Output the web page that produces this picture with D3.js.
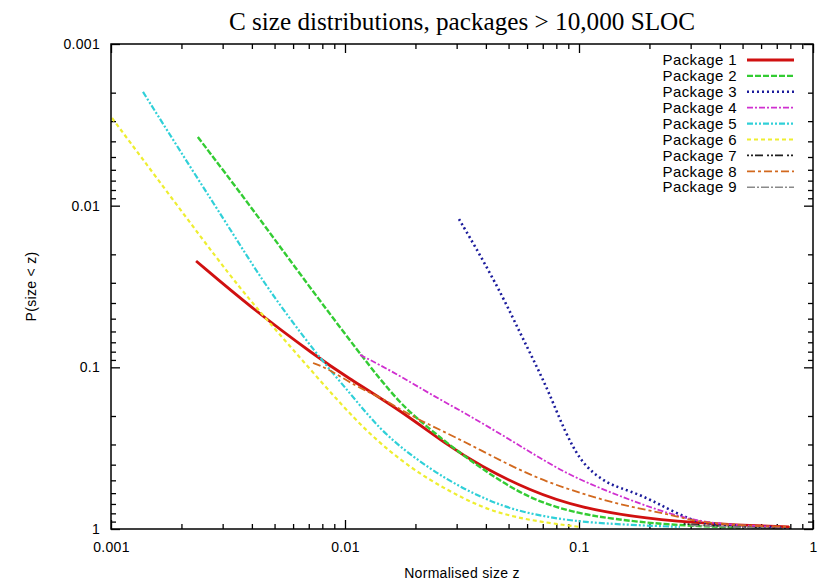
<!DOCTYPE html>
<html>
<head>
<meta charset="utf-8">
<script src="https://cdn.jsdelivr.net/npm/d3@7"></script>
<style>
  html, body { margin: 0; padding: 0; background: #fff; }
  svg { display: block; }
  .tick text { font-family: "Liberation Sans", Arial, sans-serif; }
</style>
</head>
<body>
<svg id="chart" width="823" height="581"></svg>
<script>
// Cumulative size distributions (P(size < z) against normalised size z)
const seriesNames = ["Package 1", "Package 2", "Package 3", "Package 4", "Package 5",
                     "Package 6", "Package 7", "Package 8", "Package 9"];

const pkg1X = [0.00231, 0.00393, 0.00759, 0.01, 0.0172, 0.0273, 0.0378, 0.0618, 0.101, 0.195, 0.37, 0.79];
const pkg1Y = [0.022, 0.0423, 0.0862, 0.113, 0.184, 0.302, 0.406, 0.581, 0.740, 0.866, 0.929, 0.971];

const pkg2X = [0.00235, 0.00393, 0.00642, 0.0115, 0.0172, 0.0231, 0.0273, 0.0378, 0.0618, 0.101, 0.140, 0.229, 0.49];
const pkg2Y = [0.00376, 0.0100, 0.0265, 0.0815, 0.170, 0.241, 0.294, 0.419, 0.661, 0.807, 0.866, 0.94, 0.984];

const pkg3X = [0.0307, 0.0378, 0.0473, 0.0560, 0.0649, 0.0752, 0.0871, 0.101, 0.115, 0.132, 0.150, 0.182, 0.215, 0.245, 0.290, 0.329, 0.488, 0.798];
const pkg3Y = [0.0121, 0.0202, 0.0367, 0.0613, 0.0940, 0.148, 0.251, 0.374, 0.450, 0.519, 0.557, 0.615, 0.690, 0.762, 0.853, 0.916, 0.957, 0.984];

const pkg4X = [0.0116, 0.0141, 0.0177, 0.0231, 0.0319, 0.0447, 0.0618, 0.0855, 0.119, 0.165, 0.229, 0.319, 0.442, 0.722];
const pkg4Y = [0.0838, 0.0966, 0.116, 0.146, 0.189, 0.251, 0.334, 0.443, 0.549, 0.661, 0.784, 0.891, 0.944, 0.971];

const pkg5X = [0.00137, 0.00218, 0.00339, 0.00464, 0.00759, 0.0105, 0.0141, 0.0195, 0.0273, 0.0378, 0.0522, 0.0730, 0.101, 0.165, 0.270];
const pkg5Y = [0.00198, 0.00576, 0.0156, 0.0323, 0.0838, 0.144, 0.244, 0.358, 0.497, 0.633, 0.762, 0.842, 0.904, 0.944, 0.971];

const pkg6X = [0.00101, 0.00179, 0.00332, 0.00464, 0.00759, 0.0124, 0.0195, 0.0273, 0.0378, 0.0522, 0.0730, 0.101];
const pkg6Y = [0.00287, 0.00871, 0.0288, 0.0509, 0.115, 0.255, 0.431, 0.573, 0.730, 0.842, 0.916, 0.971];

const pkg7X = [0.28, 0.40, 0.55, 0.70];
const pkg7Y = [0.93, 0.96, 0.98, 0.99];

const pkg8X = [0.00730, 0.00838, 0.0112, 0.0141, 0.0195, 0.0273, 0.0378, 0.0522, 0.0730, 0.101, 0.140, 0.195, 0.270, 0.319, 0.522, 0.798];
const pkg8Y = [0.0940, 0.101, 0.132, 0.152, 0.203, 0.255, 0.324, 0.413, 0.512, 0.598, 0.690, 0.762, 0.842, 0.904, 0.957, 0.971];

const pkg9X = [0.30, 0.45, 0.60, 0.75];
const pkg9Y = [0.95, 0.97, 0.985, 0.995];

const xMajorTicks = [0.001, 0.01, 0.1, 1];
const yMajorTicks = [0.001, 0.01, 0.1, 1];
const xTickLabels = ["0.001", "0.01", "0.1", "1"];
const yTickLabels = ["0.001", "0.01", "0.1", "1"];

const titleText = "C size distributions, packages > 10,000 SLOC";
const xTitle = "Normalised size z";
const yTitle = "P(size < z)";

// Line appearance per series
const colors = ["#d01010", "#33cc33", "#1c1c9c", "#d030d0", "#30d0d8", "#eeee30", "#202020", "#d2691e", "#8a8a8a"];
const dashes = [null, "6,2", "2,3", "6,2,2,2", "6,2,2,2,2,2", "4,3", "2,2,2,2,8,4", "8,3,3,3", "8,2,2,2"];
const widths = [2.8, 2.4, 2.6, 1.8, 2.2, 2.2, 1.6, 1.8, 1.6];

const allX = [pkg1X, pkg2X, pkg3X, pkg4X, pkg5X, pkg6X, pkg7X, pkg8X, pkg9X];
const allY = [pkg1Y, pkg2Y, pkg3Y, pkg4Y, pkg5Y, pkg6Y, pkg7Y, pkg8Y, pkg9Y];
const series = seriesNames.map((name, i) => ({
  name,
  points: allX[i].map((x, j) => [x, allY[i][j]])
}));

const L = 111, R = 813, T = 44, B = 529;
const svg = d3.select("#chart");

const x = d3.scaleLog().domain([0.001, 1]).range([L, R]);
const y = d3.scaleLog().domain([0.001, 1]).range([T, B]);

// minor ticks 2..9 inside each decade
const minorTicks = [];
[0.001, 0.01, 0.1].forEach(d => { for (let k = 2; k <= 9; k++) minorTicks.push(d * k); });

const fontSans = "'Liberation Sans', Arial, sans-serif";

function styleAxis(g) {
  g.select(".domain").remove();
  g.selectAll(".tick line").attr("stroke", "#000").attr("stroke-width", 1.3);
  g.selectAll(".tick text")
    .attr("fill", "#000")
    .style("font-size", "14px")
    .style("letter-spacing", "0.3px");
}

// bottom axis
svg.append("g").attr("transform", `translate(0,${B})`)
  .call(d3.axisBottom(x).tickValues(xMajorTicks).tickSize(-9).tickPadding(13)
    .tickFormat((d, i) => xTickLabels[i]))
  .call(styleAxis);
svg.append("g").attr("transform", `translate(0,${B})`)
  .call(d3.axisBottom(x).tickValues(minorTicks).tickSize(-5).tickFormat(""))
  .call(styleAxis);
// top axis (mirror ticks)
svg.append("g").attr("transform", `translate(0,${T})`)
  .call(d3.axisTop(x).tickValues(xMajorTicks).tickSize(-9).tickFormat(""))
  .call(styleAxis);
svg.append("g").attr("transform", `translate(0,${T})`)
  .call(d3.axisTop(x).tickValues(minorTicks).tickSize(-5).tickFormat(""))
  .call(styleAxis);
// left axis
svg.append("g").attr("transform", `translate(${L},0)`)
  .call(d3.axisLeft(y).tickValues(yMajorTicks).tickSize(-9).tickPadding(11)
    .tickFormat((d, i) => yTickLabels[i]))
  .call(styleAxis);
svg.append("g").attr("transform", `translate(${L},0)`)
  .call(d3.axisLeft(y).tickValues(minorTicks).tickSize(-5).tickFormat(""))
  .call(styleAxis);
// right axis (mirror ticks)
svg.append("g").attr("transform", `translate(${R},0)`)
  .call(d3.axisRight(y).tickValues(yMajorTicks).tickSize(-9).tickFormat(""))
  .call(styleAxis);
svg.append("g").attr("transform", `translate(${R},0)`)
  .call(d3.axisRight(y).tickValues(minorTicks).tickSize(-5).tickFormat(""))
  .call(styleAxis);

// data curves
const line = d3.line()
  .x(d => x(d[0]))
  .y(d => y(d[1]))
  .curve(d3.curveBasis);

const plot = svg.append("g");
series.forEach((s, i) => {
  plot.append("path")
    .datum(s.points)
    .attr("fill", "none")
    .attr("stroke", colors[i])
    .attr("stroke-width", widths[i])
    .attr("stroke-dasharray", dashes[i])
    .attr("stroke-linejoin", "round")
    .attr("d", line);
});

// frame
svg.append("rect")
  .attr("x", L).attr("y", T)
  .attr("width", R - L).attr("height", B - T)
  .attr("fill", "none").attr("stroke", "#000").attr("stroke-width", 1.5);

// legend
const legend = svg.append("g");
series.forEach((s, i) => {
  const ly = 60 + i * 15.9;
  legend.append("text")
    .attr("x", 737).attr("y", ly)
    .attr("dy", "0.35em")
    .attr("text-anchor", "end")
    .style("font-family", fontSans)
    .style("font-size", "15px")
    .style("letter-spacing", "0.4px")
    .text(s.name);
  legend.append("line")
    .attr("x1", 747).attr("x2", 794)
    .attr("y1", ly).attr("y2", ly)
    .attr("stroke", colors[i])
    .attr("stroke-width", widths[i])
    .attr("stroke-dasharray", dashes[i]);
});

// titles
svg.append("text")
  .attr("x", (L + R) / 2).attr("y", 30)
  .attr("text-anchor", "middle")
  .style("font-family", "'Liberation Serif', 'Times New Roman', serif")
  .style("font-size", "25.2px")
  .text(titleText);

svg.append("text")
  .attr("x", (L + R) / 2).attr("y", 578)
  .attr("text-anchor", "middle")
  .style("font-family", fontSans)
  .style("font-size", "14px")
  .style("letter-spacing", "0.3px")
  .text(xTitle);

svg.append("text")
  .attr("transform", `translate(36,${(T + B) / 2}) rotate(-90)`)
  .attr("text-anchor", "middle")
  .style("font-family", fontSans)
  .style("font-size", "14px")
  .style("letter-spacing", "0.3px")
  .text(yTitle);
</script>
</body>
</html>
